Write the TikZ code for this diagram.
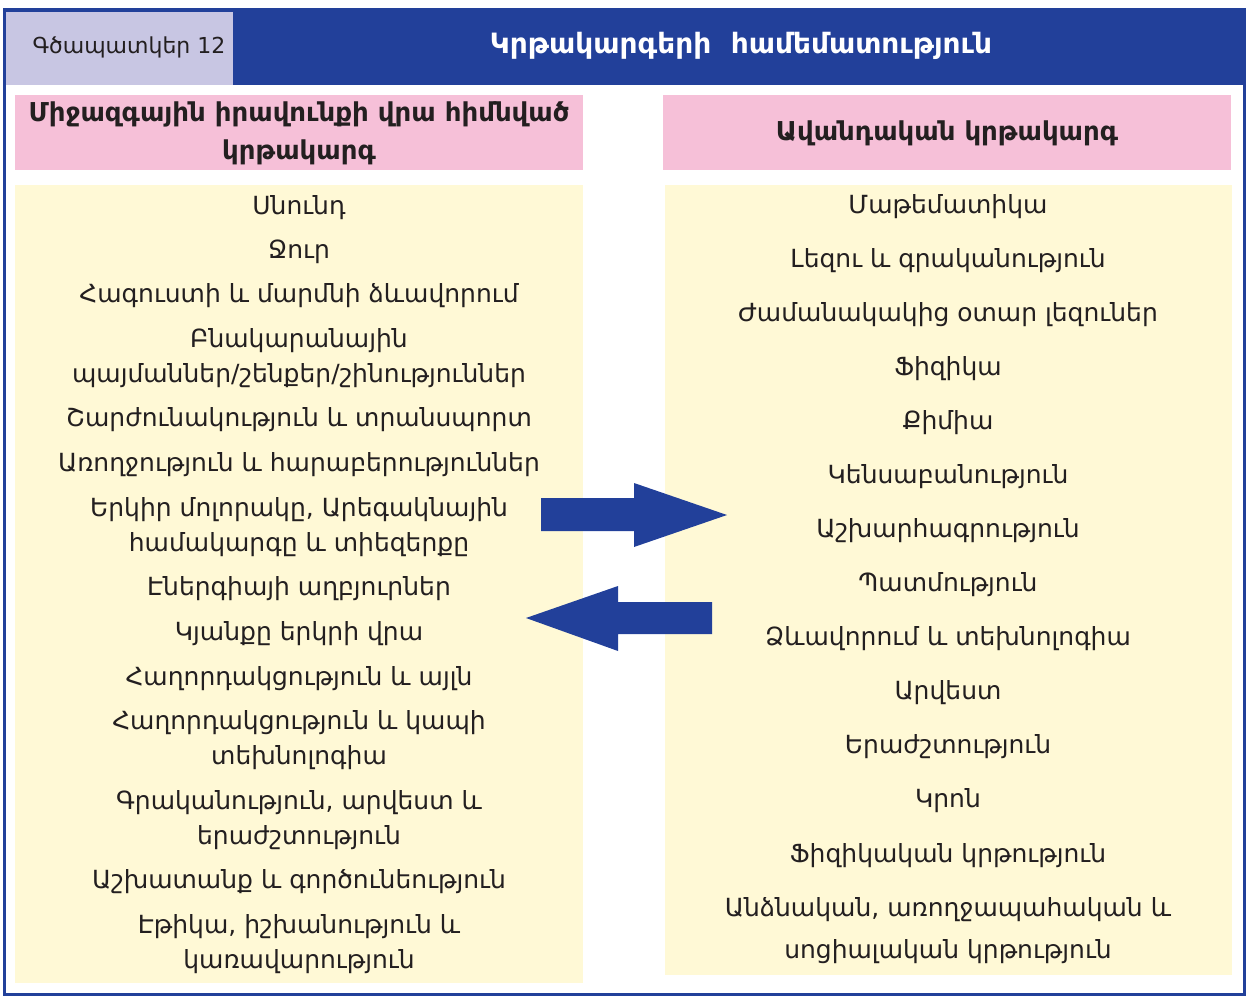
\documentclass[tikz,border=0pt]{standalone}
\usepackage{fontspec}
\setmainfont{DejaVu Sans}
\definecolor{hblue}{RGB}{34,64,154}
\definecolor{lav}{RGB}{200,198,227}
\definecolor{pinkbg}{RGB}{246,192,216}
\definecolor{yelbg}{RGB}{255,249,214}
\definecolor{ink}{RGB}{35,31,32}
\tikzset{
  item/.style={font=\fontsize{25}{35}\selectfont, text=ink, align=center, inner sep=0pt},
  itemr/.style={item, font=\fontsize{25}{42}\selectfont},
  headtxt/.style={font=\bfseries\fontsize{26}{38}\selectfont, text=ink, align=center, inner sep=0pt},
  blockarrow/.style={fill=hblue, draw=none}
}
\begin{document}
\begin{tikzpicture}[x=1pt,y=-1pt]
\useasboundingbox (0,0) rectangle (1248,999);
% header band and frame
\fill[hblue] (3,8) rectangle (1246,85);
\fill[lav] (6,12) rectangle (233,85);
\draw[hblue, line width=3pt] (4.5,9.5) rectangle (1244.5,994.5);
\node[font=\fontsize{22}{25}\selectfont, text=ink, inner sep=0pt] (lbl) at (129,47) {Գծապատկեր 12};
\node[font=\bfseries\fontsize{28}{32}\selectfont, text=white, inner sep=0pt] (title) at (741,46) {Կրթակարգերի\ \ համեմատություն};
% column backgrounds
\fill[pinkbg] (15,95) rectangle (583,170);
\fill[pinkbg] (663,95) rectangle (1231,170);
\fill[yelbg] (15,185) rectangle (583,983);
\fill[yelbg] (665,185) rectangle (1232,975);
\node[headtxt] (lh) at (299,133) {Միջազգային իրավունքի վրա հիմնված\\կրթակարգ};
\node[headtxt] (rh) at (947,133) {Ավանդական կրթակարգ};
% left items
\node[item] (l1) at (299,208) {Սնունդ};
\node[item] (l2) at (299,252) {Ջուր};
\node[item] (l3) at (299,296) {Հագուստի և մարմնի ձևավորում};
\node[item] (l4) at (299,358.5) {Բնակարանային\\պայմաններ/շենքեր/շինություններ};
\node[item] (l5) at (299,420) {Շարժունակություն և տրանսպորտ};
\node[item] (l6) at (299,465) {Առողջություն և հարաբերություններ};
\node[item] (l7) at (299,527.5) {Երկիր մոլորակը, Արեգակնային\\համակարգը և տիեզերքը};
\node[item] (l8) at (299,589) {Էներգիայի աղբյուրներ};
\node[item] (l9) at (299,634) {Կյանքը երկրի վրա};
\node[item] (l10) at (299,679) {Հաղորդակցություն և այլն};
\node[item] (l11) at (299,740.5) {Հաղորդակցություն և կապի\\տեխնոլոգիա};
\node[item] (l12) at (299,820) {Գրականություն, արվեստ և\\երաժշտություն};
\node[item] (l13) at (299,882) {Աշխատանք և գործունեություն};
\node[item] (l14) at (299,944) {Էթիկա, իշխանություն և\\կառավարություն};
% right items
\node[item] (r1) at (948,207) {Մաթեմատիկա};
\node[item] (r2) at (948,261) {Լեզու և գրականություն};
\node[item] (r3) at (948,315) {Ժամանակակից օտար լեզուներ};
\node[item] (r4) at (948,369) {Ֆիզիկա};
\node[item] (r5) at (948,423) {Քիմիա};
\node[item] (r6) at (948,477) {Կենսաբանություն};
\node[item] (r7) at (948,531) {Աշխարհագրություն};
\node[item] (r8) at (948,585) {Պատմություն};
\node[item] (r9) at (948,639) {Ձևավորում և տեխնոլոգիա};
\node[item] (r10) at (948,693) {Արվեստ};
\node[item] (r11) at (948,747) {Երաժշտություն};
\node[item] (r12) at (948,801) {Կրոն};
\node[item] (r13) at (948,856) {Ֆիզիկական կրթություն};
\node[itemr] (r14) at (948,931) {Անձնական, առողջապահական և\\սոցիալական կրթություն};
% block arrows
\fill[blockarrow] (541,498) -- (634,498) -- (634,483) -- (727,515) -- (634,547) -- (634,531) -- (541,531) -- cycle;
\fill[blockarrow] (712,602) -- (618,602) -- (618,586) -- (526,618) -- (618,651) -- (618,634) -- (712,634) -- cycle;
\end{tikzpicture}
\end{document}
